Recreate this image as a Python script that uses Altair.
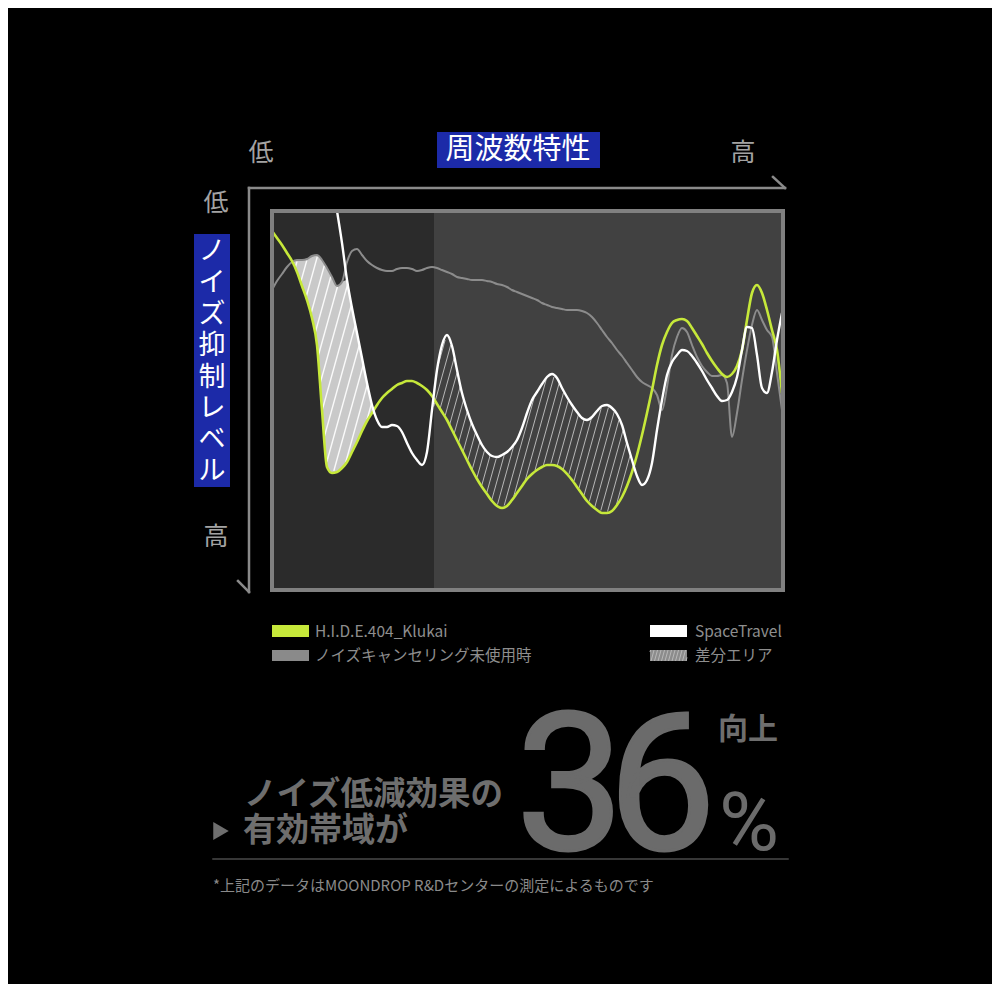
import altair as alt
import pandas as pd
import numpy as np

# ---------------- data (x: frequency position, y: depth = suppression level, 0 = top/low) -------------
GRID_X = list(range(0, 511, 5))  # 103 frequency positions

KLUKAI = [20, 27, 34, 42, 50, 61, 75, 89, 107, 134,
          199, 256, 262, 261, 257, 251, 241, 231, 220, 210,
          202, 194, 187, 182, 178, 174, 172, 170, 170, 172,
          175, 179, 185, 193, 201, 209, 219, 229, 239, 249,
          259, 268, 276, 283, 290, 295, 297, 295, 289, 282,
          275, 268, 263, 259, 256, 254, 254, 255, 258, 263,
          269, 276, 283, 290, 295, 299, 302, 302, 300, 294,
          286, 275, 261, 244, 224, 202, 179, 154, 134, 121,
          112, 109, 108, 110, 117, 125, 133, 142, 150, 157,
          163, 166, 163, 155, 139, 109, 82, 74, 82, 99,
          119, 139, 182]

NO_NC = [79, 70, 63, 56, 51, 49, 49, 48, 45, 44,
         49, 57, 66, 75, 71, 51, 40, 38, 44, 50,
         54, 57, 59, 60, 60, 58, 57, 57, 58, 60,
         59, 57, 56, 57, 59, 61, 63, 66, 67, 68,
         69, 69, 69, 70, 71, 73, 74, 76, 79, 81,
         83, 85, 87, 89, 92, 94, 96, 97, 98, 99,
         99, 99, 100, 102, 106, 112, 119, 126, 132, 139,
         145, 152, 159, 166, 171, 174, 177, 184, 199, 176,
         144, 126, 117, 121, 134, 146, 155, 161, 165, 165,
         164, 172, 226, 202, 169, 139, 114, 99, 109, 119,
         126, 162, 199]

SPACETRAVEL = [None] * 13 + [
    0, 32, 69, 97, 122, 147, 172, 194, 209, 216,
    216, 214, 215, 221, 232, 242, 249, 254, 241, 199,
    159, 134, 124, 135, 159, 182, 199, 213, 224, 234,
    241, 245, 246, 244, 241, 236, 229, 217, 202, 189,
    181, 173, 166, 163, 167, 177, 186, 194, 201, 207,
    209, 206, 200, 195, 194, 197, 203, 214, 232, 249,
    265, 274, 269, 252, 219, 189, 164, 151, 144, 139,
    140, 145, 152, 160, 169, 177, 185, 190, 189, 181,
    166, 139, 116, 117, 144, 177, 182, 161, 129, 102]

DIFF_BANDS = [(20, 105), (160, 370)]   # x-ranges of the "差分エリア"
LOW_BAND_END = 162                      # end of darker low-frequency panel
X_MAX, Y_MAX = 511, 379

LEGEND = ["H.I.D.E.404_Klukai", "ノイズキャンセリング未使用時", "SpaceTravel", "差分エリア"]
Y_LABEL = list("ノイズ抑制レベル")

# ---------------- styles ----------------
JP = "Noto Sans CJK JP"
LIME = "#c6e83a"
GRAY_LINE = "#8c8c8c"
BLUE = "#1c2aa8"
BIG = "#6b6b6b"

XS = alt.Scale(domain=[0, X_MAX], range=[264, 775], nice=False, zero=False)
YS = alt.Scale(domain=[0, Y_MAX], range=[203, 582], nice=False, zero=False)

df = pd.DataFrame({"x": GRID_X, "klukai": KLUKAI, "nonc": NO_NC,
                   "space": pd.Series(SPACETRAVEL, dtype="float")})
gx = df["x"].to_numpy(float)
top = np.fmax(df["nonc"].to_numpy(float), df["space"].to_numpy(float))
bottom = np.maximum(df["klukai"].to_numpy(float), top)
df["top"] = top
df["bottom"] = bottom


def X(f="x"):
    return alt.X(f"{f}:Q", scale=XS, axis=None)


def Y(f):
    return alt.Y(f"{f}:Q", scale=YS, axis=None)


def hatch(x_lo, x_hi, spacing, slope=3.6):
    ys = np.arange(0, Y_MAX + 0.01, 0.5)
    segs = []
    c0 = x_lo - Y_MAX / slope - spacing
    for c in np.arange(c0, x_hi + spacing, spacing):
        xx = c + (Y_MAX - ys) / slope
        ok = (xx >= x_lo) & (xx <= x_hi)
        tt = np.interp(xx, gx, top)
        bb = np.interp(xx, gx, bottom)
        ok &= (ys > tt + 1.2) & (ys < bb - 1.2)
        idx = np.flatnonzero(ok)
        if idx.size == 0:
            continue
        br = np.flatnonzero(np.diff(idx) > 1)
        starts = np.r_[idx[0], idx[br + 1]]
        ends = np.r_[idx[br], idx[-1]]
        for s, e in zip(starts, ends):
            if e - s < 2:
                continue
            segs.append({"x": xx[s], "y": ys[s], "x2": xx[e], "y2": ys[e]})
    return pd.DataFrame(segs)


ONE = pd.DataFrame({"k": [0]})


def txt(s, x, y, size, color, weight="normal", align="center", baseline="middle", font=JP, **kw):
    return alt.Chart(ONE).mark_text(
        text=s, fontSize=size, color=color, fontWeight=weight, align=align,
        baseline=baseline, font=font, **kw
    ).encode(x=alt.value(x), y=alt.value(y))


def rule(x1, y1, x2, y2, color="#8a8a8a", w=2.5):
    return alt.Chart(ONE).mark_rule(color=color, strokeWidth=w, strokeCap="square").encode(
        x=alt.value(x1), y=alt.value(y1), x2=alt.value(x2), y2=alt.value(y2))


def box(x1, y1, x2, y2, fill, **kw):
    return alt.Chart(ONE).mark_rect(fill=fill, **kw).encode(
        x=alt.value(x1), y=alt.value(y1), x2=alt.value(x2), y2=alt.value(y2))


layers = []

# panels
panels = pd.DataFrame({"x": [0, LOW_BAND_END], "x2": [LOW_BAND_END, X_MAX],
                       "y": [0, 0], "y2": [Y_MAX, Y_MAX], "c": ["#2b2b2b", "#414141"]})
layers.append(alt.Chart(panels).mark_rect().encode(
    x=X(), x2="x2:Q", y=Y("y"), y2="y2:Q", fill=alt.Fill("c:N", scale=None, legend=None)))

# difference area (band 1 filled light grey)
lo, hi = DIFF_BANDS[0]
reg1 = df[(df.x >= lo) & (df.x <= hi)]
layers.append(alt.Chart(reg1).mark_area(color="#c9c9c9", interpolate="monotone").encode(
    x=X(), y=Y("top"), y2="bottom:Q"))
h1 = hatch(lo, hi, 9.5)
layers.append(alt.Chart(h1).mark_rule(color="#ffffff", strokeWidth=1.4, opacity=0.9).encode(
    x=X(), y=Y("y"), x2="x2:Q", y2="y2:Q"))
lo, hi = DIFF_BANDS[1]
h2 = hatch(lo, hi, 7)
layers.append(alt.Chart(h2).mark_rule(color="#c4c4c4", strokeWidth=1, opacity=0.9).encode(
    x=X(), y=Y("y"), x2="x2:Q", y2="y2:Q"))

# curves
layers.append(alt.Chart(df).mark_line(color=GRAY_LINE, strokeWidth=2, interpolate="monotone").encode(
    x=X(), y=Y("nonc")))
layers.append(alt.Chart(df).mark_line(color=LIME, strokeWidth=2.6, interpolate="monotone").encode(
    x=X(), y=Y("klukai")))
layers.append(alt.Chart(df).mark_line(color="#ffffff", strokeWidth=2.4, interpolate="monotone").encode(
    x=X(), y=Y("space")))

# frame
frame = pd.DataFrame({"x": [0], "x2": [X_MAX], "y": [0], "y2": [Y_MAX]})
layers.append(alt.Chart(frame).mark_rect(fillOpacity=0, stroke="#808080", strokeWidth=4).encode(
    x=X(), x2="x2:Q", y=Y("y"), y2="y2:Q"))

# axes arrows
layers += [
    rule(241, 180, 777, 180), rule(765, 169, 777, 180),
    rule(241, 180, 241, 584), rule(230, 573, 241, 584),
]

# axis labels
LAB = "#a3a3a3"
layers += [
    txt("低", 253, 145, 25, LAB), txt("高", 735, 145, 25, LAB),
    txt("低", 208, 195, 25, LAB), txt("高", 208, 529, 25, LAB),
    box(429, 124, 592, 160, BLUE),
    txt("周波数特性", 510, 142, 29, "#ffffff"),
    box(186, 226, 222, 479, BLUE),
    txt(Y_LABEL, 204, 244, 27, "#ffffff", lineHeight=31.4),
]

# legend
LEG = "#8e8e8e"
layers += [
    box(264, 617, 301, 629, LIME),
    box(264, 642, 301, 653, "#8a8a8a"),
    box(642, 617, 679, 629, "#ffffff"),
    box(642, 642, 679, 653, "#8c8c8c"),
    txt(LEGEND[0], 307, 624, 15.5, LEG, align="left"),
    txt(LEGEND[1], 307, 648, 15.5, LEG, align="left"),
    txt(LEGEND[2], 687, 624, 15.5, LEG, align="left"),
    txt(LEGEND[3], 687, 648, 15.5, LEG, align="left"),
]
# hatch on legend swatch
sw = []
for c in np.arange(636, 684, 3.5):
    xa, ya, xb, yb = c, 653.0, c + 11 / 3.6, 642.0
    if xa < 642:
        ya = 653 - (642 - xa) * 3.6
        xa = 642
    if xb > 679:
        yb = 653 - (679 - c) * 3.6
        xb = 679
    if ya > yb + 1 and xb > xa:
        sw.append({"x": xa, "y": ya, "x2": xb, "y2": yb})
swdf = pd.DataFrame(sw)
layers.append(alt.Chart(swdf).mark_rule(color="#b8b8b8", strokeWidth=1).encode(
    x=alt.X("x:Q", scale=None, axis=None), y=alt.Y("y:Q", scale=None, axis=None),
    x2="x2:Q", y2="y2:Q"))

# headline block
layers += [
    txt("ノイズ低減効果の", 236, 787, 32.5, "#6e6e6e", weight="bold", align="left"),
    txt("有効帯域が", 235, 823, 33, "#6e6e6e", weight="bold", align="left"),
    alt.Chart(ONE).mark_point(shape="triangle-right", filled=True, size=320, color="#6e6e6e",
                              opacity=1).encode(x=alt.value(213), y=alt.value(823)),
    txt("3", 562, 841, 192, BIG, weight=400, baseline="alphabetic", font="Roboto",
        stroke=BIG, strokeWidth=3),
    txt("6", 654, 841, 192, BIG, weight=400, baseline="alphabetic", font="Roboto",
        stroke=BIG, strokeWidth=3),
    txt("%", 741, 842, 82, BIG, weight=400, baseline="alphabetic", font="Roboto"),
    txt("向上", 740, 722, 30, "#6e6e6e", weight="bold"),
    rule(205, 851, 780, 851, color="#4a4a4a", w=1.5),
    txt("*上記のデータはMOONDROP R&Dセンターの測定によるものです", 205, 878, 15, "#8a8a8a",
        align="left"),
]

chart = alt.layer(*layers).resolve_scale(
    x="independent", y="independent"
).properties(
    width=984, height=976, background="#000000", padding=0,
    autosize=alt.AutoSizeParams(type="none"),
).configure_view(stroke=None)

chart.save("out.html", embed_options={"renderer": "svg", "actions": False})
